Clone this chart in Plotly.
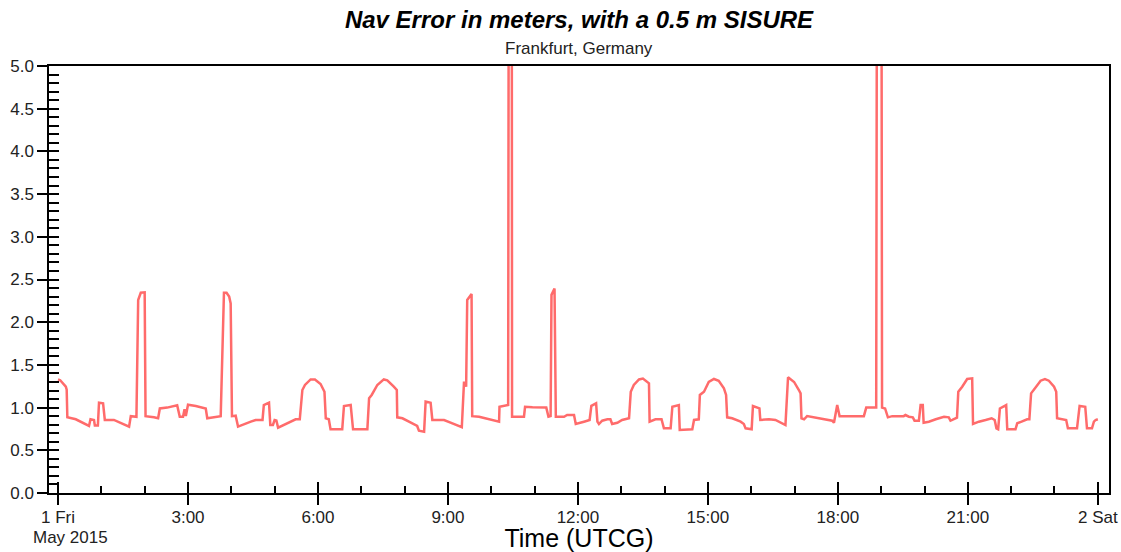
import pandas as pd
import plotly.graph_objects as go

# Hours after 2015-05-01 00:00 UTCG
hours = [
    0.00, 0.05, 0.18, 0.20, 0.215, 0.41, 0.715, 0.75, 0.83, 0.85, 0.92, 0.946, 1.04, 1.08,
    1.29, 1.45, 1.64, 1.68, 1.81, 1.85, 1.91, 2.00, 2.02, 2.215, 2.31, 2.35, 2.52, 2.75,
    2.81, 2.885, 2.92, 2.95, 3.00, 3.18, 3.41, 3.445, 3.64, 3.755, 3.83, 3.89, 3.95, 3.985,
    4.015, 4.10, 4.155, 4.29, 4.45, 4.56, 4.72, 4.75, 4.87, 4.90, 4.96, 5.00, 5.04, 5.08,
    5.25, 5.485, 5.58, 5.64, 5.70, 5.83, 5.93, 6.06, 6.15, 6.18, 6.25, 6.29, 6.56, 6.60,
    6.755, 6.81, 7.14, 7.18, 7.24, 7.37, 7.52, 7.60, 7.75, 7.82, 7.83, 7.95, 8.10, 8.20,
    8.29, 8.33, 8.45, 8.485, 8.60, 8.64, 8.91, 9.06, 9.32, 9.37, 9.40, 9.42, 9.445, 9.545,
    9.56, 9.72, 9.95, 10.18, 10.19, 10.39, 10.41, 10.47, 10.48, 10.755, 10.78, 10.95, 11.27,
    11.32, 11.37, 11.39, 11.46, 11.49, 11.68, 11.75, 11.91, 11.95, 12.14, 12.27, 12.31,
    12.42, 12.45, 12.485, 12.56, 12.68, 12.75, 12.79, 12.91, 13.02, 13.18, 13.22, 13.29,
    13.41, 13.50, 13.64, 13.655, 13.79, 13.93, 13.985, 14.14, 14.18, 14.33, 14.35, 14.64,
    14.68, 14.79, 14.815, 14.91, 15.02, 15.14, 15.25, 15.37, 15.42, 15.445, 15.56, 15.755,
    15.83, 15.87, 16.01, 16.04, 16.19, 16.21, 16.41, 16.56, 16.79, 16.85, 16.99, 17.10,
    17.14, 17.16, 17.22, 17.29, 17.37, 17.60, 17.755, 17.87, 17.91, 17.985, 18.04, 18.60,
    18.655, 18.885, 18.91, 19.00, 19.02, 19.09, 19.155, 19.255, 19.52, 19.56, 19.64, 19.73,
    19.77, 19.87, 19.91, 19.96, 19.98, 20.10, 20.26, 20.45, 20.56, 20.60, 20.64, 20.75,
    20.78, 20.87, 20.985, 21.10, 21.12, 21.255, 21.41, 21.55, 21.62, 21.66, 21.70, 21.74,
    21.885, 21.91, 22.10, 22.14, 22.24, 22.37, 22.42, 22.46, 22.55, 22.68, 22.78, 22.87,
    22.99, 23.04, 23.06, 23.18, 23.27, 23.31, 23.52, 23.58, 23.71, 23.75, 23.865, 23.91,
    23.95, 24.00,
]

nav_error = [
    1.33, 1.32, 1.245, 1.21, 0.886, 0.863, 0.785, 0.863, 0.855, 0.79, 0.79, 1.057, 1.05, 0.855,
    0.855, 0.823, 0.777, 0.90, 0.893, 2.26, 2.345, 2.35, 0.90, 0.886, 0.875, 0.99, 1.00, 1.027,
    0.893, 0.893, 0.98, 0.90, 1.034, 1.019, 0.99, 0.875, 0.893, 0.90, 2.345, 2.345, 2.30, 2.22,
    0.90, 0.905, 0.777, 0.808, 0.835, 0.855, 0.855, 1.03, 1.057, 0.796, 0.796, 0.855, 0.85, 0.765,
    0.808, 0.863, 0.863, 1.206, 1.265, 1.33, 1.33, 1.276, 1.186, 0.875, 0.863, 0.746, 0.746, 1.019,
    1.03, 0.746, 0.746, 1.109, 1.148, 1.265, 1.33, 1.32, 1.245, 1.206, 0.886, 0.875, 0.835, 0.808,
    0.785, 0.73, 0.718, 1.07, 1.057, 0.855, 0.855, 0.823, 0.77, 1.29, 1.29, 1.245, 2.26, 2.33,
    0.90, 0.893, 0.863, 0.835, 1.01, 1.03, 9.0, 9.0, 0.893, 0.893, 1.01, 1.003, 1.00,
    0.893, 0.90, 2.32, 2.395, 0.893, 0.893, 0.913, 0.913, 0.808, 0.835, 0.855, 1.02,
    1.05, 0.835, 0.808, 0.847, 0.863, 0.863, 0.808, 0.823, 0.855, 0.875, 1.186, 1.265,
    1.33, 1.34, 1.284, 0.835, 0.863, 0.863, 0.757, 0.757, 1.01, 1.03, 0.738, 0.746,
    0.855, 0.863, 1.148, 1.186, 1.30, 1.335, 1.315, 1.226, 1.148, 0.886, 0.875, 0.835,
    0.808, 0.757, 0.746, 1.019, 0.99, 0.855, 0.863, 0.855, 0.796, 1.355, 1.30, 1.206,
    1.167, 0.875, 0.863, 0.90, 0.893, 0.875, 0.855, 0.847, 0.823, 1.03, 0.90, 0.90,
    1.00, 1.00, 9.0, 9.0, 1.00, 0.99, 0.886, 0.90, 0.90, 0.913, 0.893, 0.886,
    0.847, 0.847, 1.03, 1.03, 0.823, 0.835, 0.863, 0.893, 0.886, 0.847, 0.855, 0.882,
    1.186, 1.245, 1.335, 1.343, 0.808, 0.835, 0.855, 0.875, 0.855, 0.757, 0.746, 0.99,
    1.03, 0.746, 0.746, 0.816, 0.835, 0.863, 0.863, 1.167, 1.226, 1.315, 1.335, 1.315,
    1.245, 1.186, 0.875, 0.863, 0.855, 0.757, 0.757, 1.019, 1.01, 0.757, 0.757, 0.835,
    0.855, 0.863,
]

tick_hours = [0, 3, 6, 9, 12, 15, 18, 21, 24]
tick_labels = ["1 Fri", "3:00", "6:00", "9:00", "12:00", "15:00", "18:00", "21:00", "2 Sat"]
y_ticks = [0.0, 0.5, 1.0, 1.5, 2.0, 2.5, 3.0, 3.5, 4.0, 4.5, 5.0]

base = pd.Timestamp("2015-05-01 00:00:00")
t = base + pd.to_timedelta(hours, unit="h")
tickvals = list(base + pd.to_timedelta(tick_hours, unit="h"))
x_range = [base - pd.Timedelta(minutes=12.5), base + pd.Timedelta(hours=24, minutes=15.5)]

FONT = "Arial, 'Liberation Sans', sans-serif"
TXT = "#222222"

fig = go.Figure()
fig.add_trace(go.Scatter(
    x=t, y=nav_error, mode="lines",
    line=dict(color="#ff6b6b", width=2.5),
    showlegend=False, hoverinfo="x+y",
))
# invisible helper trace so overlay tick axes are drawn
fig.add_trace(go.Scatter(x=[t[0]], y=[nav_error[0]], xaxis="x2", yaxis="y2",
                         mode="markers", marker=dict(opacity=0), showlegend=False,
                         hoverinfo="skip"))

fig.update_layout(
    width=1121, height=552,
    margin=dict(l=49, r=12, t=66, b=59, autoexpand=False),
    paper_bgcolor="white", plot_bgcolor="white",
    font=dict(family=FONT, color=TXT, size=17),
    title=dict(
        text="<b><i>Nav Error in meters, with a 0.5 m SISURE</i></b>",
        x=0.5, xref="paper", xanchor="center",
        y=1 - 20 / 552, yref="container", yanchor="middle",
        font=dict(family=FONT, size=24, color="black"),
    ),
    xaxis=dict(
        type="date", range=x_range, automargin=False,
        tickvals=tickvals, ticktext=tick_labels, ticklabelstandoff=-2,
        ticks="outside", ticklen=10, tickwidth=1.5, tickcolor="black",
        showline=True, linecolor="black", linewidth=1.5, mirror=True,
        showgrid=False, zeroline=False,
        tickfont=dict(size=17, color=TXT),
        title=dict(text="Time (UTCG)", font=dict(size=25, color="black"), standoff=5),
    ),
    yaxis=dict(
        range=[0, 5], tickvals=y_ticks, tickformat=".1f", automargin=False,
        ticks="outside", ticklen=10, tickwidth=1.5, tickcolor="black",
        showline=True, linecolor="black", linewidth=1.5, mirror=True,
        showgrid=False, zeroline=False,
        tickfont=dict(size=17, color=TXT),
    ),
    xaxis2=dict(
        type="date", overlaying="x", matches="x", side="bottom", automargin=False,
        tickvals=tickvals, showticklabels=False,
        ticks="inside", ticklen=11, tickwidth=1.5, tickcolor="black",
        minor=dict(dtick=3600000, ticks="inside", ticklen=7, tickwidth=1.5, tickcolor="black"),
        showline=False, showgrid=False, zeroline=False,
    ),
    yaxis2=dict(
        overlaying="y", matches="y", side="left", automargin=False,
        dtick=0.1, tick0=0, showticklabels=False,
        ticks="inside", ticklen=10, tickwidth=1.5, tickcolor="black",
        showline=False, showgrid=False, zeroline=False,
    ),
    annotations=[
        dict(text="Frankfurt, Germany", xref="paper", yref="paper",
             x=0.5, y=(493 - 49) / 427, xanchor="center", yanchor="middle",
             showarrow=False, font=dict(size=17, color=TXT)),
        dict(text="May 2015", xref="paper", yref="paper",
             x=(31 - 49) / 1060, y=(493 - 537) / 427, xanchor="left", yanchor="middle",
             showarrow=False, font=dict(size=17, color=TXT)),
    ],
)

fig.write_html("out.html", config={"displayModeBar": False},
               post_script="document.body.style.margin='0';")
